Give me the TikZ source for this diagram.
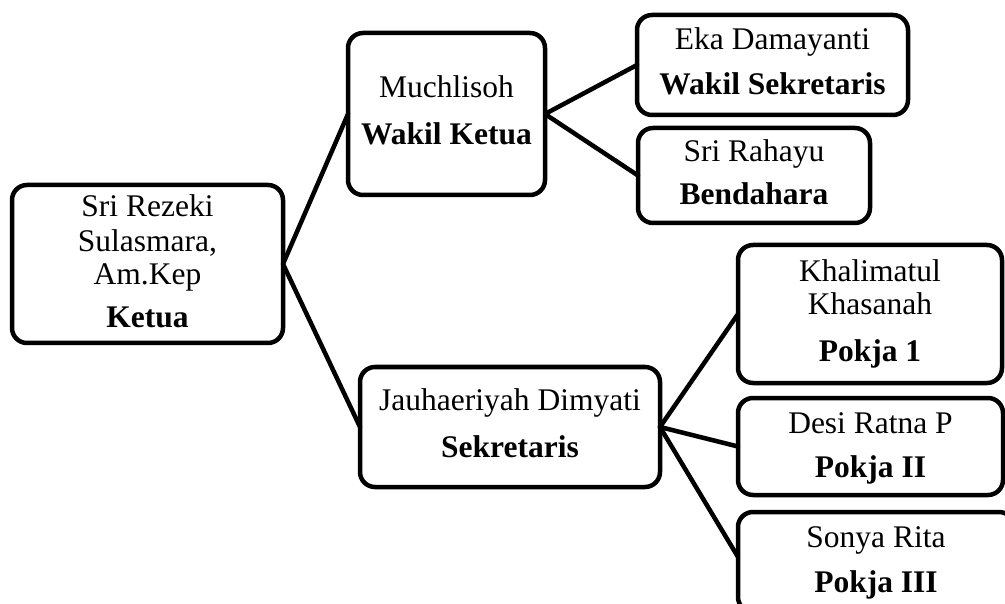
\documentclass[tikz,border=0pt]{standalone}
\usepackage{fontspec}
\setmainfont{Liberation Serif}
\begin{document}
\begin{tikzpicture}[x=1pt,y=-1pt,
  box/.style={draw, line width=4.5pt, rounded corners=15pt, inner sep=0pt, outer sep=0pt, fill=white},
  link/.style={line width=4.5pt, line cap=round, line join=round},
  ln/.style={anchor=base, inner sep=0pt, outer sep=0pt, font=\fontsize{31.5}{34}\selectfont},
  bl/.style={ln, font=\fontsize{31.5}{34}\selectfont\bfseries}]
\useasboundingbox (0,0) rectangle (1005,604);
\clip (0,0) rectangle (1005,604);

% boxes
\node[box, minimum width=271pt, minimum height=158pt] (ketua) at (147.5,264) {};
\node[box, minimum width=197pt, minimum height=162pt] (wk) at (446.5,114) {};
\node[box, minimum width=271pt, minimum height=100pt] (ws) at (772.5,65) {};
\node[box, minimum width=232pt, minimum height=95pt] (bd) at (754,175.5) {};
\node[box, minimum width=300pt, minimum height=120pt] (sek) at (510,427) {};
\node[box, minimum width=264pt, minimum height=138pt] (p1) at (870,314) {};
\node[box, minimum width=265pt, minimum height=97pt] (p2) at (870.5,446.5) {};
\node[box, minimum width=276pt, minimum height=100pt] (p3) at (876,562) {};

% connectors
\draw[link] (wk.west) -- (ketua.east) -- (sek.west);
\draw[link] (ws.west) -- (wk.east) -- (bd.west);
\draw[link] (sek.east) -- (p1.west);
\draw[link] (sek.east) -- (p2.west);
\draw[link] (sek.east) -- ([yshift=5pt]p3.west);

% texts
\node[ln] (ketua1) at (147.5,217) {Sri Rezeki};
\node[ln] (ketua2) at (147.5,252) {Sulasmara,};
\node[ln] (ketua3) at (147.5,285) {Am.Kep};
\node[bl] (ketua4) at (147.5,328) {Ketua};

\node[ln] (wk1) at (446.5,98) {Muchlisoh};
\node[bl] (wk2) at (446.5,145) {Wakil Ketua};

\node[ln] (ws1) at (772.5,50) {Eka Damayanti};
\node[bl] (ws2) at (772.5,95) {Wakil Sekretaris};

\node[ln] (bd1) at (754,162) {Sri Rahayu};
\node[bl] (bd2) at (754,205) {Bendahara};

\node[ln] (sek1) at (510,410) {Jauhaeriyah Dimyati};
\node[bl] (sek2) at (510,457) {Sekretaris};

\node[ln] (p1a) at (870,282) {Khalimatul};
\node[ln] (p1b) at (870,315) {Khasanah};
\node[bl] (p1c) at (870,362) {Pokja 1};

\node[ln] (p2a) at (870.5,433) {Desi Ratna P};
\node[bl] (p2b) at (870.5,477) {Pokja II};

\node[ln] (p3a) at (876,547) {Sonya Rita};
\node[bl] (p3b) at (876,592) {Pokja III};
\end{tikzpicture}
\end{document}
